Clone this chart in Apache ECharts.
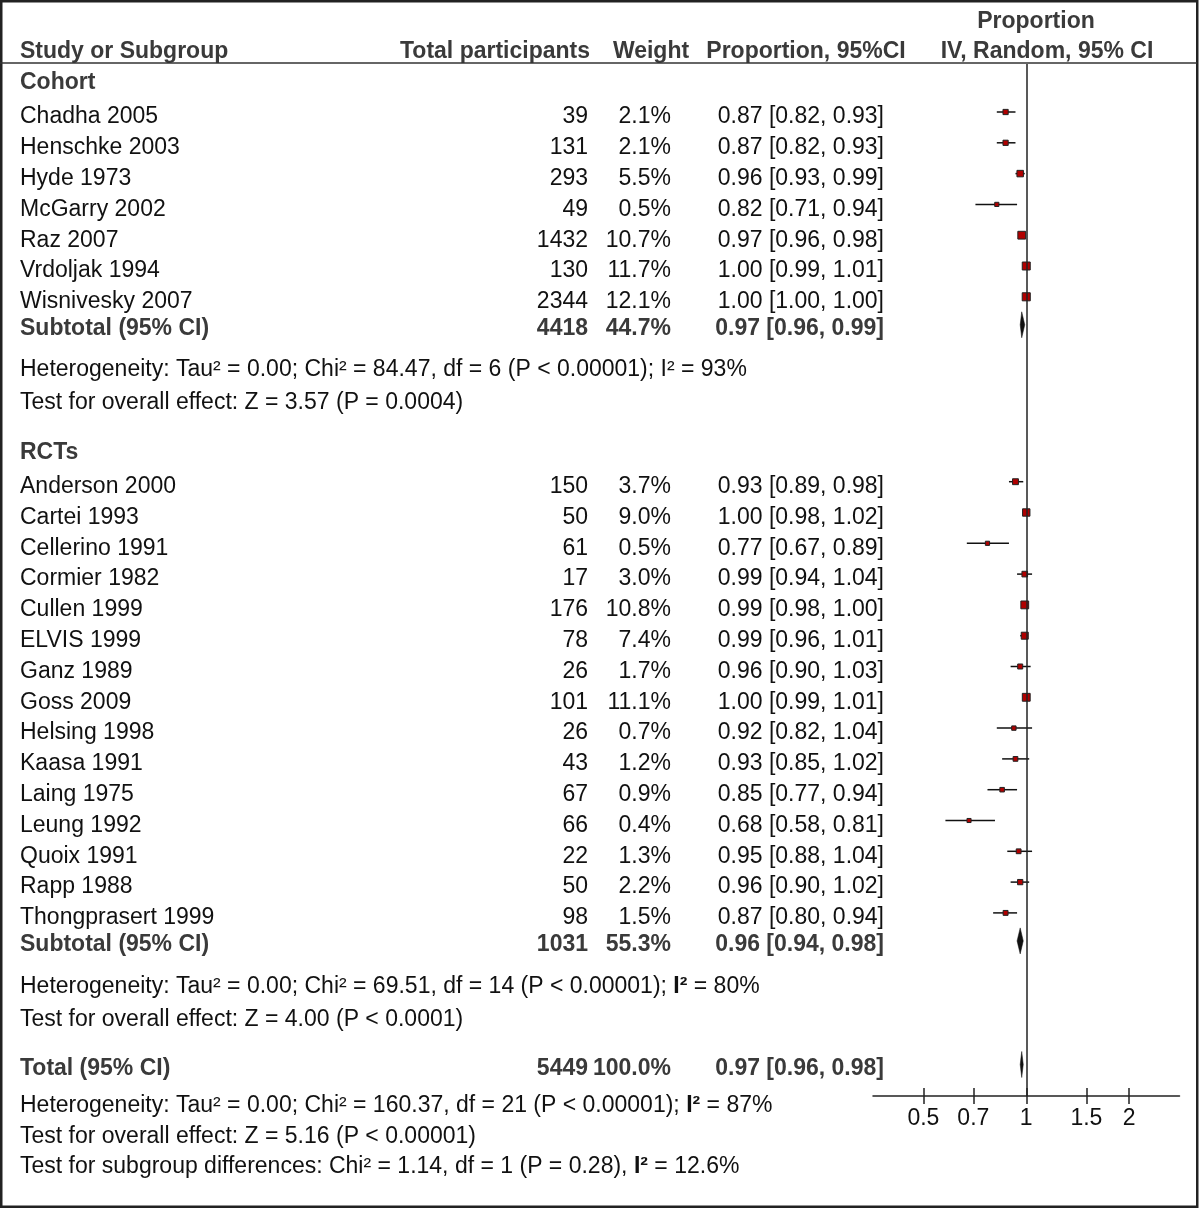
<!DOCTYPE html>
<html>
<head>
<meta charset="utf-8">
<script src="https://cdn.jsdelivr.net/npm/echarts@6/dist/echarts.min.js"></script>
<style>
  html, body { margin: 0; padding: 0; background: #fff; }
  #chart { width: 1200px; height: 1209px; }
</style>
</head>
<body>
<div id="chart"></div>
<script>
// ---------------- DATA ----------------
const cohortStudies = ['Chadha 2005', 'Henschke 2003', 'Hyde 1973', 'McGarry 2002', 'Raz 2007', 'Vrdoljak 1994', 'Wisnivesky 2007'];
const cohortN      = [39, 131, 293, 49, 1432, 130, 2344];
const cohortWeight = [2.1, 2.1, 5.5, 0.5, 10.7, 11.7, 12.1];
const cohortEst    = [0.87, 0.87, 0.96, 0.82, 0.97, 1.00, 1.00];
const cohortLo     = [0.82, 0.82, 0.93, 0.71, 0.96, 0.99, 1.00];
const cohortHi     = [0.93, 0.93, 0.99, 0.94, 0.98, 1.01, 1.00];
// [N, weight, est, lo, hi]
const cohortSubtotal = [4418, 44.7, 0.97, 0.96, 0.99];

const rctStudies = ['Anderson 2000', 'Cartei 1993', 'Cellerino 1991', 'Cormier 1982', 'Cullen 1999', 'ELVIS 1999', 'Ganz 1989', 'Goss 2009', 'Helsing 1998', 'Kaasa 1991', 'Laing 1975', 'Leung 1992', 'Quoix 1991', 'Rapp 1988', 'Thongprasert 1999'];
const rctN      = [150, 50, 61, 17, 176, 78, 26, 101, 26, 43, 67, 66, 22, 50, 98];
const rctWeight = [3.7, 9.0, 0.5, 3.0, 10.8, 7.4, 1.7, 11.1, 0.7, 1.2, 0.9, 0.4, 1.3, 2.2, 1.5];
const rctEst    = [0.93, 1.00, 0.77, 0.99, 0.99, 0.99, 0.96, 1.00, 0.92, 0.93, 0.85, 0.68, 0.95, 0.96, 0.87];
const rctLo     = [0.89, 0.98, 0.67, 0.94, 0.98, 0.96, 0.90, 0.99, 0.82, 0.85, 0.77, 0.58, 0.88, 0.90, 0.80];
const rctHi     = [0.98, 1.02, 0.89, 1.04, 1.00, 1.01, 1.03, 1.01, 1.04, 1.02, 0.94, 0.81, 1.04, 1.02, 0.94];
const rctSubtotal = [1031, 55.3, 0.96, 0.94, 0.98];

const overallTotal = [5449, 100.0, 0.97, 0.96, 0.98];

const xTicks = [0.5, 0.7, 1, 1.5, 2];
const xRange = [0.356, 1 / 0.356];

const headers = ['Study or Subgroup', 'Total participants', 'Weight', 'Proportion, 95%CI', 'Proportion', 'IV, Random, 95% CI'];
const groupNames = ['Cohort', 'RCTs'];
const subtotalLabel = 'Subtotal (95% CI)';
const totalLabel = 'Total (95% CI)';
const cohortStats = ['Heterogeneity: Tau² = 0.00; Chi² = 84.47, df = 6 (P < 0.00001); I² = 93%', 'Test for overall effect: Z = 3.57 (P = 0.0004)'];
const rctStats = [['Heterogeneity: Tau² = 0.00; Chi² = 69.51, df = 14 (P < 0.00001); ', 'I²', ' = 80%'], 'Test for overall effect: Z = 4.00 (P < 0.0001)'];
const totalStats = [['Heterogeneity: Tau² = 0.00; Chi² = 160.37, df = 21 (P < 0.00001); ', 'I²', ' = 87%'], 'Test for overall effect: Z = 5.16 (P < 0.00001)', ['Test for subgroup differences: Chi² = 1.14, df = 1 (P = 0.28), ', 'I²', ' = 12.6%']];

// ---------------- LAYOUT ----------------
const FONT = '"Liberation Sans", Arial, Helvetica, sans-serif';
const FS = 23;
const REG = FS + 'px ' + FONT;
const BOLD = 'bold ' + FS + 'px ' + FONT;
const C_REG = '#111';
const C_BOLD = '#3a3a3a';
const ROW = 30.8;
const GRID_TOP = 64, AXIS_Y = 1096;
const TEXT_DY = 5;
const X_NAME = 20, X_N = 588, X_W = 671, X_CI = 884;

const cohortY = cohortStudies.map((_, i) => 112 + i * ROW);
const cohortSubY = cohortY[cohortY.length - 1] + 28;
const rctY = rctStudies.map((_, i) => 481.7 + i * ROW);
const rctSubY = rctY[rctY.length - 1] + 28;
const totalY = 1064.5;

const fmtCI = (e, l, h) => e.toFixed(2) + ' [' + l.toFixed(2) + ', ' + h.toFixed(2) + ']';

const texts = [];
function txt(s, x, y, align, bold, color) {
  texts.push({ type: 'text', x: x, y: y, silent: true, z: 10,
    style: { text: s, font: bold ? BOLD : REG, fill: color || (bold ? C_BOLD : C_REG), align: align || 'left', verticalAlign: 'middle' } });
}
function richTxt(parts, x, y) {
  texts.push({ type: 'text', x: x, y: y, silent: true, z: 10,
    style: { text: '{n|' + parts[0] + '}{b|' + parts[1] + '}{n|' + parts[2] + '}', verticalAlign: 'middle', align: 'left',
      rich: { n: { fontSize: FS, fontFamily: FONT, fill: C_REG }, b: { fontSize: FS, fontFamily: FONT, fontWeight: 'bold', fill: C_REG } } } });
}

// headers
txt(headers[0], X_NAME, 52, 'left', true);
txt(headers[1], 590, 52, 'right', true);
txt(headers[2], 651, 52, 'center', true);
txt(headers[3], 806, 52, 'center', true);
txt(headers[4], 1036, 22, 'center', true);
txt(headers[5], 1047, 52, 'center', true);

function studyRows(names, ns, ws, es, ls, hs, ys) {
  names.forEach((nm, i) => {
    const y = ys[i] + TEXT_DY;
    txt(nm, X_NAME, y, 'left', false);
    txt(String(ns[i]), X_N, y, 'right', false);
    txt(ws[i].toFixed(1) + '%', X_W, y, 'right', false);
    txt(fmtCI(es[i], ls[i], hs[i]), X_CI, y, 'right', false);
  });
}
function summaryRow(label, arr, y) {
  y += TEXT_DY - 1;
  txt(label, X_NAME, y, 'left', true);
  txt(String(arr[0]), X_N, y, 'right', true);
  txt(arr[1].toFixed(1) + '%', X_W, y, 'right', true);
  txt(fmtCI(arr[2], arr[3], arr[4]), X_CI, y, 'right', true);
}

txt(groupNames[0], X_NAME, 83, 'left', true);
studyRows(cohortStudies, cohortN, cohortWeight, cohortEst, cohortLo, cohortHi, cohortY);
summaryRow(subtotalLabel, cohortSubtotal, cohortSubY);
txt(cohortStats[0], X_NAME, 370, 'left', false);
txt(cohortStats[1], X_NAME, 403, 'left', false);

txt(groupNames[1], X_NAME, 453, 'left', true);
studyRows(rctStudies, rctN, rctWeight, rctEst, rctLo, rctHi, rctY);
summaryRow(subtotalLabel, rctSubtotal, rctSubY);
richTxt(rctStats[0], X_NAME, 987);
txt(rctStats[1], X_NAME, 1020, 'left', false);

summaryRow(totalLabel, overallTotal, totalY);
richTxt(totalStats[0], X_NAME, 1106);
txt(totalStats[1], X_NAME, 1137, 'left', false);
richTxt(totalStats[2], X_NAME, 1167);

// frame + header separator
texts.push({ type: 'rect', silent: true, z: 20, shape: { x: 1.25, y: 1.25, width: 1196, height: 1205.5 }, style: { fill: 'none', stroke: '#222', lineWidth: 2.5 } });
texts.push({ type: 'line', silent: true, z: 20, shape: { x1: 0, y1: 63, x2: 1197, y2: 63 }, style: { stroke: '#333', lineWidth: 1.5 } });

// series data
const studyData = [];
cohortStudies.forEach((_, i) => studyData.push([cohortEst[i], cohortLo[i], cohortHi[i], cohortWeight[i], cohortY[i]]));
rctStudies.forEach((_, i) => studyData.push([rctEst[i], rctLo[i], rctHi[i], rctWeight[i], rctY[i]]));
const diamondData = [
  [cohortSubtotal[2], cohortSubtotal[3], cohortSubtotal[4], cohortSubY],
  [rctSubtotal[2], rctSubtotal[3], rctSubtotal[4], rctSubY],
  [overallTotal[2], overallTotal[3], overallTotal[4], totalY]
];

const chart = echarts.init(document.getElementById('chart'), null, { renderer: 'canvas' });
const axisCommon = { type: 'log', min: xRange[0], max: xRange[1], position: 'bottom', splitLine: { show: false }, minorTick: { show: false } };
chart.setOption({
  animation: false,
  backgroundColor: '#fff',
  grid: { left: 873, right: 20.5, top: GRID_TOP, bottom: 1209 - AXIS_Y },
  xAxis: [
    Object.assign({}, axisCommon, {
      axisLine: { show: true, lineStyle: { color: '#222', width: 1.5 } },
      axisTick: { show: true, customValues: xTicks, length: 8, inside: false, lineStyle: { color: '#222', width: 1.5 } },
      axisLabel: { show: true, customValues: xTicks, margin: 11, color: '#111', fontSize: FS, fontFamily: FONT,
        formatter: v => String(Math.round(v * 10) / 10) }
    }),
    Object.assign({}, axisCommon, {
      axisLine: { show: false },
      axisTick: { show: true, customValues: xTicks, length: 8, inside: true, lineStyle: { color: '#222', width: 1.5 } },
      axisLabel: { show: false }
    })
  ],
  yAxis: { type: 'value', min: GRID_TOP, max: AXIS_Y, inverse: true, show: false },
  graphic: { elements: texts },
  series: [
    {
      type: 'custom',
      name: 'studies',
      xAxisIndex: 0,
      data: studyData,
      encode: { x: [0, 1, 2], y: 4 },
      clip: false,
      renderItem: function (params, api) {
        const yv = api.value(4);
        const p = api.coord([api.value(0), yv]);
        const l = api.coord([api.value(1), yv]);
        const h = api.coord([api.value(2), yv]);
        const s = 3.2 + 1.4 * Math.sqrt(api.value(3));
        return {
          type: 'group',
          children: [
            { type: 'line', shape: { x1: l[0], y1: l[1], x2: h[0], y2: h[1] }, style: { stroke: '#111', lineWidth: 1.5 } },
            { type: 'rect', shape: { x: p[0] - s / 2, y: p[1] - s / 2, width: s, height: s }, style: { fill: '#b00000', stroke: '#222', lineWidth: 1 } }
          ]
        };
      },
      markLine: {
        silent: true, symbol: 'none', label: { show: false },
        lineStyle: { color: '#222', width: 1.5, type: 'solid' },
        data: [{ xAxis: 1 }]
      }
    },
    {
      type: 'custom',
      name: 'diamonds',
      xAxisIndex: 0,
      data: diamondData,
      encode: { x: [0, 1, 2], y: 3 },
      clip: false,
      renderItem: function (params, api) {
        const yv = api.value(3);
        const p = api.coord([api.value(0), yv]);
        const l = api.coord([api.value(1), yv]);
        const h = api.coord([api.value(2), yv]);
        const hh = 13;
        return {
          type: 'polygon',
          shape: { points: [[l[0], p[1]], [p[0], p[1] - hh], [h[0], p[1]], [p[0], p[1] + hh]] },
          style: { fill: '#111', stroke: '#111', lineWidth: 0.5 }
        };
      }
    }
  ]
});
</script>
</body>
</html>
